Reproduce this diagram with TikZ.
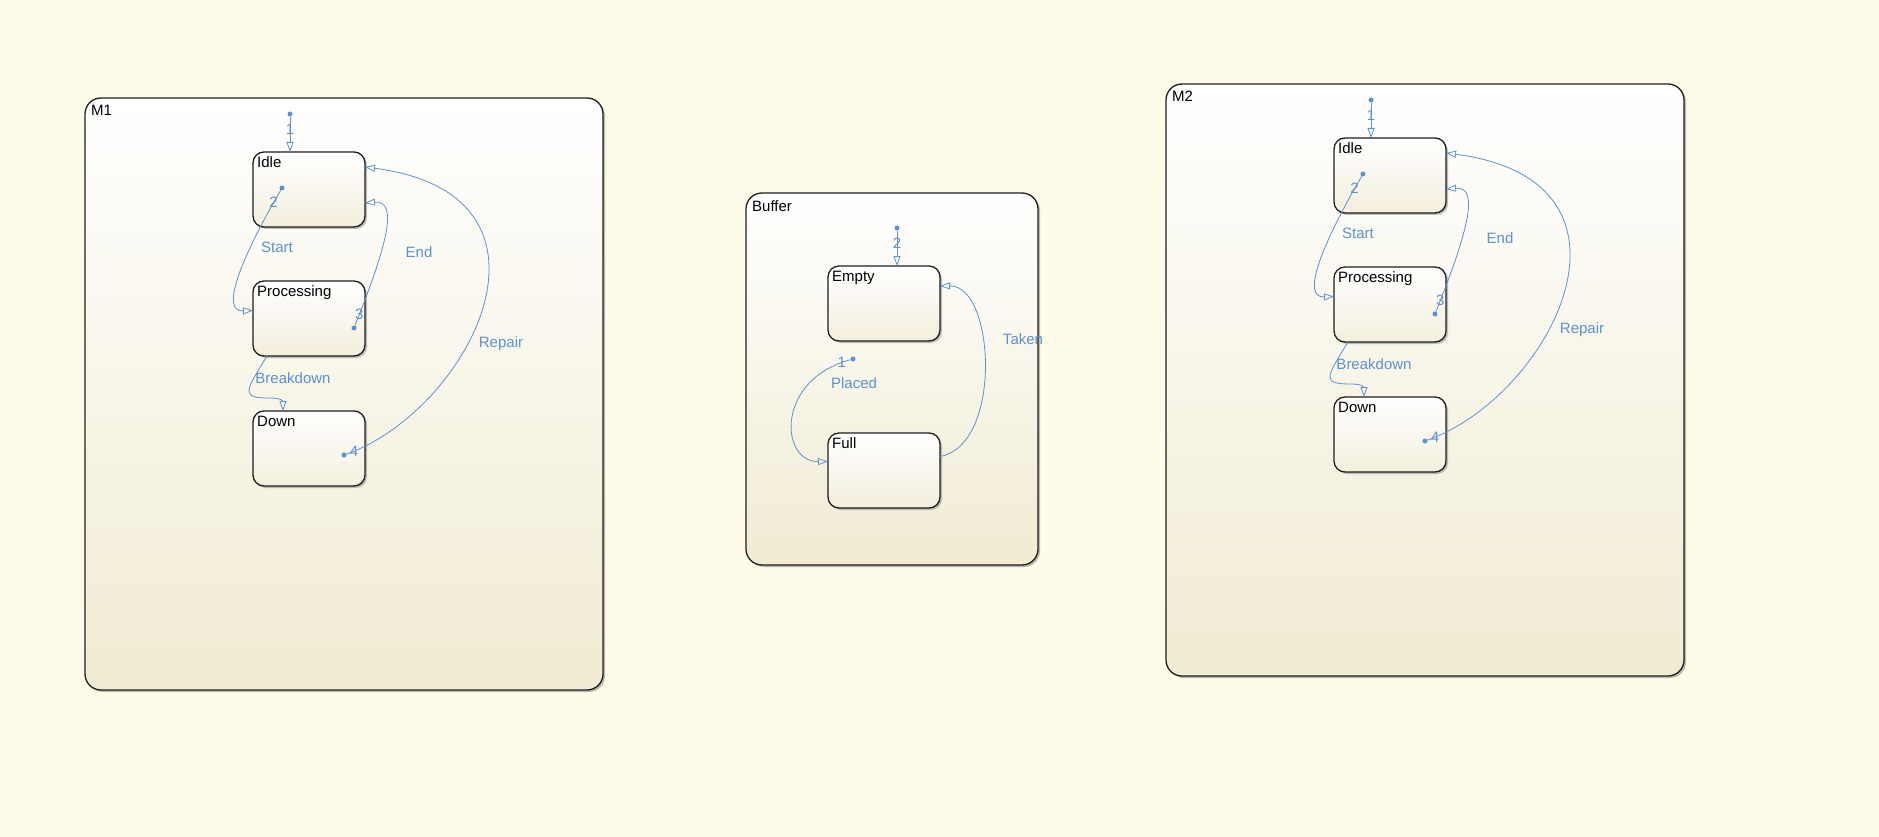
\documentclass[tikz,border=0pt]{standalone}
\usepackage{fontspec}
\setmainfont{Liberation Sans}
\usetikzlibrary{positioning,arrows.meta,shadows}

\definecolor{bgcream}{RGB}{255,251,233}
\definecolor{chartbot}{RGB}{241,235,210}
\definecolor{statebot}{RGB}{243,238,221}
\definecolor{trblue}{RGB}{94,145,209}
\definecolor{edge}{RGB}{30,30,30}

\begin{document}
\begin{tikzpicture}[
    x=1pt, y=-1pt,
    font=\fontsize{15}{18}\selectfont,
    chart/.style={draw=edge, line width=1.3pt, rounded corners=16pt, outer sep=0pt, anchor=north west,
        top color=white, bottom color=chartbot,
        drop shadow={shadow xshift=2pt, shadow yshift=-2pt, fill=black!50, opacity=.55}},
    chartname/.style={anchor=north west, inner xsep=6pt, inner ysep=7pt},
    state/.style={draw=edge, line width=1.3pt, rounded corners=11pt, outer sep=0pt,
        minimum width=112pt, minimum height=75pt, top color=white, bottom color=statebot,
        drop shadow={shadow xshift=2pt, shadow yshift=-2pt, fill=black!50, opacity=.5}},
    sname/.style={anchor=north west, inner xsep=4pt, inner ysep=4.5pt},
    trans/.style={draw=trblue, line width=0.8pt, -{Triangle[open, length=10pt, width=7pt]}},
    dot/.style={circle, fill=trblue, inner sep=0pt, minimum size=5pt},
    num/.style={text=trblue, inner sep=1pt},
    tlbl/.style={text=trblue}
]

    \fill[bgcream] (0,0) rectangle (1879,837);

    % Chart M1
    \node[chart, minimum width=518pt, minimum height=592pt, label={[chartname]north west:M1}] (m1) at (85,98) {};
    \node[state, below right=54pt and 168pt of m1.north west, label={[sname]north west:Idle}] (idle1) {};
    \node[state, below=54pt of idle1, label={[sname]north west:Processing}] (proc1) {};
    \node[state, below=55pt of proc1, label={[sname]north west:Down}] (down1) {};

    % Transitions M1
    \node[dot] (init1) at (290,114) {};
    \draw[trans] (init1) -- (init1 |- idle1.north) node[num, pos=.37] {1};

    \node[dot] (idle1dot) at (282,188) {};
    \draw[trans] (idle1dot) .. controls (240,260) and (220,312) .. ([yshift=8pt]proc1.west) node[num, pos=.06] {2};
    \node[tlbl] (start1) at (277,247) {Start};

    \node[dot] (proc1dot) at (354,328) {};
    \draw[trans] (proc1dot) .. controls (385,250) and (400,200) .. ([yshift=-13.5pt]idle1.east) node[num, pos=.05] {3};
    \node[tlbl] (end1) at (419,252) {End};

    \draw[trans] ([xshift=-42pt]proc1.south) .. controls (245,392) and (240,398) .. (270,398)
        .. controls (283,398) and (283,402) .. ([xshift=-26pt]down1.north);
    \node[tlbl] (brk1) at (293,378) {Breakdown};

    \node[dot] (down1dot) at (344,455) {};
    \draw[trans] (down1dot) .. controls (470,410) and (580,195) .. ([yshift=22.5pt]idle1.east) node[num, pos=.02] {4};
    \node[tlbl] (rep1) at (501,344) {Repair};

    % Chart Buffer
    \node[chart, minimum width=292pt, minimum height=372pt, label={[chartname]north west:Buffer}] (buffer) at (746,193) {};
    \node[state, below right=73pt and 82pt of buffer.north west, label={[sname]north west:Empty}] (empty) {};
    \node[state, below=92pt of empty, label={[sname]north west:Full}] (full) {};

    % Transitions Buffer
    \node[dot] (init3) at (897,228) {};
    \draw[trans] (init3) -- (init3 |- empty.north) node[num, pos=.37] {2};

    \node[dot] (placedot) at (853,359) {};
    \draw[trans] (placedot) .. controls (775,380) and (780,462) .. ([yshift=9pt]full.west) node[num, pos=.04] {1};
    \node[tlbl] (placed) at (854,383) {Placed};

    \draw[trans] ([yshift=14pt]full.east) .. controls (1003,445) and (995,285) .. ([yshift=17.5pt]empty.east);
    \node[tlbl] (taken) at (1023,339) {Taken};

    % Chart M2, same layout as M1
    \begin{scope}[shift={(1081,-14)}]
    \node[chart, minimum width=518pt, minimum height=592pt, label={[chartname]north west:M2}] (m2) at (85,98) {};
    \node[state, below right=54pt and 168pt of m2.north west, label={[sname]north west:Idle}] (idle2) {};
    \node[state, below=54pt of idle2, label={[sname]north west:Processing}] (proc2) {};
    \node[state, below=55pt of proc2, label={[sname]north west:Down}] (down2) {};

    % Transitions M2
    \node[dot] (init2) at (290,114) {};
    \draw[trans] (init2) -- (init2 |- idle2.north) node[num, pos=.37] {1};

    \node[dot] (idle2dot) at (282,188) {};
    \draw[trans] (idle2dot) .. controls (240,260) and (220,312) .. ([yshift=8pt]proc2.west) node[num, pos=.06] {2};
    \node[tlbl] (start2) at (277,247) {Start};

    \node[dot] (proc2dot) at (354,328) {};
    \draw[trans] (proc2dot) .. controls (385,250) and (400,200) .. ([yshift=-13.5pt]idle2.east) node[num, pos=.05] {3};
    \node[tlbl] (end2) at (419,252) {End};

    \draw[trans] ([xshift=-42pt]proc2.south) .. controls (245,392) and (240,398) .. (270,398)
        .. controls (283,398) and (283,402) .. ([xshift=-26pt]down2.north);
    \node[tlbl] (brk2) at (293,378) {Breakdown};

    \node[dot] (down2dot) at (344,455) {};
    \draw[trans] (down2dot) .. controls (470,410) and (580,195) .. ([yshift=22.5pt]idle2.east) node[num, pos=.02] {4};
    \node[tlbl] (rep2) at (501,344) {Repair};
    \end{scope}

\end{tikzpicture}
\end{document}
